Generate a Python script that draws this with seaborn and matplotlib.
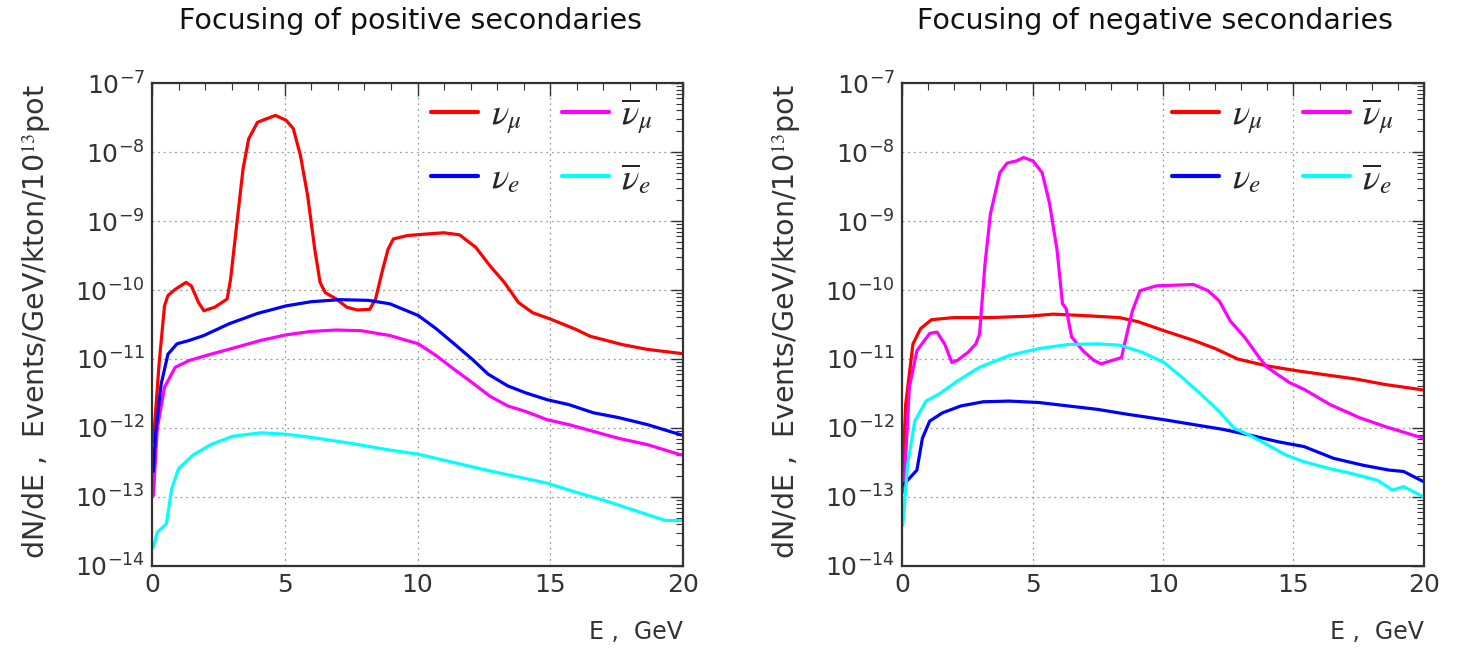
import numpy as np
import pandas as pd
import matplotlib
matplotlib.use("Agg")
import matplotlib.pyplot as plt
import seaborn as sns
from matplotlib.ticker import LogLocator, MultipleLocator, NullFormatter

# ---------------- data (log10 of dN/dE) ----------------
# Left panel: focusing of positive secondaries
pos_numu_E = [0.05, 0.27, 0.47, 0.6, 0.875, 1.28, 1.48, 1.75, 1.95, 2.36, 2.83, 2.96, 3.17, 3.43, 3.64, 3.97,
              4.3, 4.65, 5.05, 5.32, 5.59, 5.86, 6.13, 6.33, 6.53, 6.94, 7.34, 7.74, 8.2, 8.42, 8.69, 8.89, 9.09,
              9.63, 10.3, 10.98, 11.58, 12.19, 12.73, 13.27, 13.8, 14.34, 15.0, 15.96, 16.5, 17.7, 18.65, 19.93]
pos_numu_L = [-12.2, -11.05, -10.23, -10.08, -9.99, -9.89, -9.94, -10.18, -10.30, -10.25, -10.13, -9.84, -9.12,
              -8.24, -7.81, -7.57, -7.52, -7.47, -7.54, -7.66, -8.05, -8.63, -9.41, -9.89, -10.04, -10.13, -10.25,
              -10.29, -10.28, -10.13, -9.70, -9.41, -9.26, -9.21, -9.19, -9.17, -9.20, -9.38, -9.65, -9.89,
              -10.18, -10.33, -10.42, -10.57, -10.67, -10.79, -10.86, -10.92]

pos_nue_E = [0.05, 0.13, 0.34, 0.6, 0.94, 1.41, 1.95, 2.9, 3.97, 5.05, 5.99, 7.07, 8.15, 8.96, 10.03, 10.7,
             11.38, 12.05, 12.66, 13.4, 14.07, 14.88, 15.69, 16.63, 17.58, 18.65, 19.93]
pos_nue_L = [-12.63, -12.1, -11.37, -10.93, -10.78, -10.73, -10.66, -10.49, -10.34, -10.23, -10.17, -10.14,
             -10.15, -10.2, -10.37, -10.56, -10.78, -11.0, -11.22, -11.39, -11.49, -11.59, -11.66, -11.78,
             -11.85, -11.95, -12.1]

pos_anumu_E = [0.05, 0.2, 0.47, 0.875, 1.41, 2.22, 3.17, 4.1, 5.05, 5.99, 6.94, 7.88, 8.96, 10.03, 10.7,
               11.38, 12.05, 12.73, 13.4, 14.07, 14.88, 15.69, 16.63, 17.58, 18.65, 19.93]
pos_anumu_L = [-12.98, -12.0, -11.41, -11.12, -11.02, -10.93, -10.83, -10.73, -10.65, -10.6, -10.58, -10.59,
               -10.66, -10.78, -10.95, -11.15, -11.34, -11.54, -11.68, -11.76, -11.88, -11.95, -12.05,
               -12.15, -12.24, -12.39]

pos_anue_E = [0.05, 0.2, 0.54, 0.74, 1.0, 1.55, 2.22, 3.03, 4.1, 5.05, 6.26, 7.61, 8.96, 10.03, 11.25,
              12.59, 13.8, 14.88, 15.96, 17.04, 18.38, 19.33, 19.93]
pos_anue_L = [-13.73, -13.51, -13.39, -12.88, -12.59, -12.39, -12.24, -12.12, -12.07, -12.09, -12.15, -12.23,
              -12.32, -12.38, -12.49, -12.61, -12.71, -12.8, -12.93, -13.05, -13.22, -13.34, -13.34]

# Right panel: focusing of negative secondaries
neg_numu_E = [0.02, 0.14, 0.42, 0.71, 1.13, 1.98, 3.39, 4.81, 5.8, 6.93, 8.34, 9.05, 10.04, 11.17, 12.01,
              12.86, 13.99, 15.12, 16.25, 17.39, 18.52, 20.0]
neg_numu_L = [-12.73, -11.66, -10.78, -10.56, -10.43, -10.4, -10.4, -10.38, -10.35, -10.37, -10.4, -10.46,
              -10.59, -10.73, -10.85, -11.0, -11.1, -11.17, -11.23, -11.29, -11.37, -11.45]

neg_anumu_E = [0.07, 0.28, 0.57, 1.06, 1.34, 1.63, 1.91, 2.12, 2.54, 2.83, 2.97, 3.18, 3.39, 3.75, 4.03,
               4.38, 4.66, 5.02, 5.37, 5.65, 5.94, 6.15, 6.29, 6.5, 6.93, 7.35, 7.63, 8.06, 8.41, 8.62,
               8.83, 9.12, 9.75, 11.17, 11.73, 12.16, 12.58, 13.14, 13.71, 13.99, 14.84, 15.41, 16.4,
               17.53, 18.52, 20.0]
neg_anumu_L = [-12.93, -11.41, -10.88, -10.63, -10.61, -10.78, -11.05, -11.02, -10.9, -10.78, -10.64, -9.62,
               -8.89, -8.3, -8.16, -8.13, -8.08, -8.13, -8.3, -8.74, -9.42, -10.2, -10.27, -10.68, -10.88,
               -11.02, -11.07, -11.02, -10.98, -10.63, -10.3, -10.01, -9.94, -9.92, -10.01, -10.16, -10.45,
               -10.69, -10.99, -11.12, -11.34, -11.44, -11.66, -11.85, -11.98, -12.15]

neg_nue_E = [0.03, 0.28, 0.57, 0.78, 1.06, 1.55, 2.26, 3.11, 4.1, 5.23, 6.36, 7.49, 8.62, 10.04, 11.17,
             12.3, 13.29, 14.42, 15.41, 16.54, 17.67, 18.66, 19.22, 20.0]
neg_nue_L = [-12.83, -12.73, -12.61, -12.15, -11.9, -11.78, -11.68, -11.62, -11.61, -11.63, -11.68, -11.73,
             -11.8, -11.88, -11.95, -12.02, -12.1, -12.2, -12.27, -12.44, -12.54, -12.61, -12.63, -12.78]

neg_anue_E = [0.03, 0.21, 0.49, 0.92, 1.41, 2.12, 2.97, 4.1, 5.23, 6.36, 7.49, 8.34, 9.19, 10.04, 10.74,
              11.45, 12.16, 12.72, 13.29, 13.99, 14.7, 15.41, 16.4, 17.24, 18.23, 18.8, 19.22, 20.0]
neg_anue_L = [-13.41, -12.54, -11.9, -11.61, -11.51, -11.32, -11.12, -10.95, -10.85, -10.79, -10.78, -10.8,
              -10.9, -11.05, -11.27, -11.51, -11.76, -12.0, -12.1, -12.24, -12.39, -12.49, -12.59, -12.66,
              -12.76, -12.9, -12.85, -13.0]

labels = [r"$\nu_{\mu}$", r"$\overline{\nu}_{\mu}$", r"$\nu_{e}$", r"$\overline{\nu}_{e}$"]
colors = ["#ff0000", "#ff00ff", "#0000ff", "#00ffff"]
titles = ["Focusing of positive secondaries", "Focusing of negative secondaries"]
yticks_exp = [-14, -13, -12, -11, -10, -9, -8, -7]
ylabel_text = r"dN/dE ,  Events/GeV/kton/10$^{13}$pot"
xlabel_text = "E ,  GeV"

panels = [
    [(pos_numu_E, pos_numu_L), (pos_anumu_E, pos_anumu_L), (pos_nue_E, pos_nue_L), (pos_anue_E, pos_anue_L)],
    [(neg_numu_E, neg_numu_L), (neg_anumu_E, neg_anumu_L), (neg_nue_E, neg_nue_L), (neg_anue_E, neg_anue_L)],
]

# ---------------- plotting ----------------
sns.set_style("white")
plt.rcParams["font.family"] = ["DejaVu Sans"]
plt.rcParams["mathtext.fontset"] = "stix"

fig = plt.figure(figsize=(14.66, 6.49), dpi=100)
positions = [[0.1037, 0.1279, 0.3622, 0.7442], [0.6153, 0.1279, 0.3560, 0.7442]]
title_x = [410, 1155]
ylab_x = [36, 786]

for i, (pos, series) in enumerate(zip(positions, panels)):
    ax = fig.add_axes(pos)
    for (E, L), lab, col in zip(series, labels, colors):
        df = pd.DataFrame({"E": E, "dNdE": np.power(10.0, L)})
        sns.lineplot(data=df, x="E", y="dNdE", ax=ax, color=col, linewidth=2.3, label=lab, sort=False,
                     estimator=None)
    ax.set_yscale("log")
    ax.set_xlim(0, 20)
    ax.set_ylim(1e-14, 1e-7)
    ax.set_yticks([10.0 ** e for e in yticks_exp])
    ax.yaxis.set_minor_locator(LogLocator(base=10, subs=np.arange(2, 10), numticks=100))
    ax.yaxis.set_minor_formatter(NullFormatter())
    ax.xaxis.set_major_locator(MultipleLocator(5))
    ax.xaxis.set_minor_locator(MultipleLocator(1))
    ax.tick_params(which="both", direction="in", top=True, right=True, colors="#333333")
    ax.tick_params(which="major", length=9, width=1.0, labelsize=18, pad=5)
    ax.tick_params(which="minor", length=5, width=0.8)
    ax.grid(True, which="major", linestyle=(0, (1.5, 3)), color="#999999", linewidth=0.9)
    for s in ax.spines.values():
        s.set_color("#333333")
        s.set_linewidth(1.6)
    ax.set_xlabel("")
    ax.set_ylabel("")

    h, l = ax.get_legend_handles_labels()
    order = [0, 2, 1, 3]
    leg = ax.legend([h[k] for k in order], [l[k] for k in order], ncol=2, frameon=False,
                    loc="upper right", bbox_to_anchor=(1.005, 1.04), fontsize=26,
                    handlelength=1.3, columnspacing=1.1, labelspacing=0.7, handletextpad=0.35)
    for line in leg.get_lines():
        line.set_linewidth(3)

    fig.text(title_x[i] / 1466, 1 - 21 / 649, titles[i], ha="center", va="center", fontsize=20.5,
             color="#111111")
    fig.text((pos[0] + pos[2]), 1 - 632 / 649, xlabel_text, ha="right", va="center", fontsize=17,
             color="#333333")
    fig.text(ylab_x[i] / 1466, pos[1] + pos[3] / 2 + 0.005, ylabel_text, rotation=90,
             ha="center", va="center", fontsize=20.5, color="#333333")

fig.savefig("out.png", dpi=100)
